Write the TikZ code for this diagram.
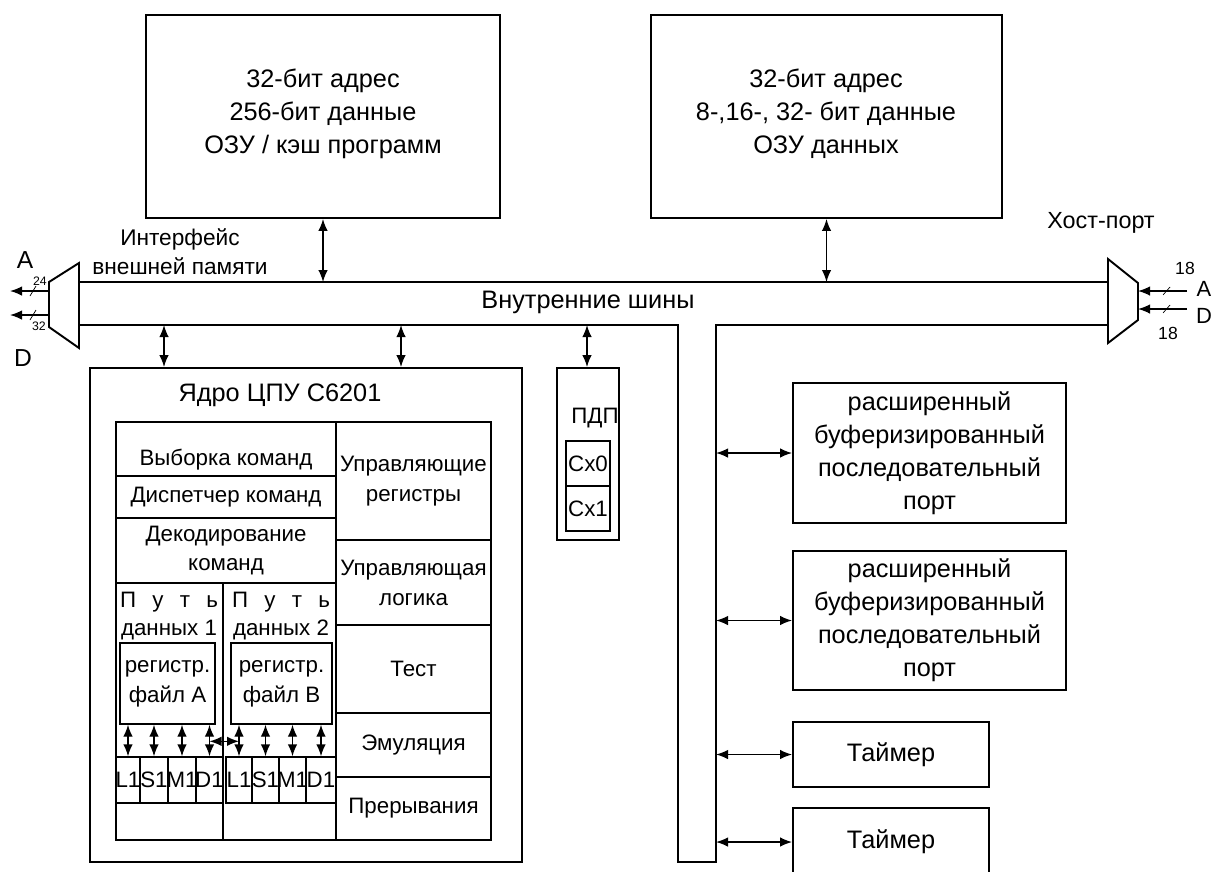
\documentclass[tikz,border=0pt]{standalone}
\usepackage{fontspec}
\setmainfont{Liberation Sans}
\usetikzlibrary{arrows.meta,fit}
\newcommand{\mainfs}{\fontsize{14.4}{18.8}\selectfont}
\newcommand{\corefs}{\fontsize{12.7}{17}\selectfont}
\newcommand{\emiffs}{\fontsize{12.9}{16.5}\selectfont}
\newcommand{\pinfs}{\fontsize{10}{11}\selectfont}
\newcommand{\tinyfs}{\fontsize{7}{8}\selectfont}

\begin{document}
\begin{tikzpicture}[x=0.2mm, y=-0.2mm, font=\mainfs, >={Latex[length=2.4mm,width=1.9mm]},
          box/.style={draw, line width=1.1pt, inner sep=0pt},
          cell/.style={draw, line width=0.8pt, inner sep=0pt},
          mtx/.style={align=center, inner sep=0pt},
          ctx/.style={align=center, inner sep=0pt, font=\corefs},
          bi/.style={<->, line width=0.8pt}]
        \clip (0,0) rectangle (1213,871);
        % memories
        \node[box, fit={(146,15) (500,218)}] (pmem) {};
        \node[mtx] (tpmem) at (323,114) {32-бит адрес\\256-бит данные\\ОЗУ / кэш программ};
        \node[box, fit={(651,15) (1002,218)}] (dmem) {};
        \node[mtx] (tdmem) at (826,114) {32-бит адрес\\8-,16-, 32- бит данные\\ОЗУ данных};
        % internal bus
        \draw[line width=1.1pt] (79,282) -- (1108,282);
        \draw[line width=1.1pt] (79,325) -- (678,325) -- (678,862) -- (716,862) -- (716,325) -- (1108,325);
        \node (busname) at (588,302) {Внутренние шины};
        \coordinate (bustop) at (0,282);
        \coordinate (stem) at (716,0);
        \draw[bi] (pmem.south) -- (pmem.south |- bustop);
        \draw[bi] (dmem.south) -- (dmem.south |- bustop);
        % external memory interface
        \draw[line width=1.1pt] (49,282) -- (79,263) -- (79,348) -- (49,327) -- cycle;
        \node[align=center, font=\emiffs] (emif) at (180,252) {Интерфейс\\внешней памяти};
        \coordinate (emA) at (49,291);
        \coordinate (emD) at (49,315);
        \coordinate (pinA) at (10,291);
        \coordinate (pinD) at (10,315);
        \draw[->, line width=0.8pt] (emA) -- (pinA);
        \draw[->, line width=0.8pt] (emD) -- (pinD);
        \draw (30,296) -- (36,286);
        \draw (30,320) -- (36,310);
        \node[font=\tinyfs] (n24) at (40,281) {24};
        \node[font=\tinyfs] (n32) at (39,326) {32};
        \node[font=\fontsize{14}{15}\selectfont] (lA) at (25,260) {A};
        \node[font=\fontsize{14}{15}\selectfont] (lD) at (23,358) {D};
        % host port
        \draw[line width=1.1pt] (1108,259) -- (1138,283) -- (1138,320) -- (1108,343) -- cycle;
        \node[font=\fontsize{13.3}{15}\selectfont] (host) at (1101,223) {Хост-порт};
        \coordinate (hpA) at (1187,291);
        \coordinate (hpD) at (1187,309);
        \coordinate (hmA) at (1138,291);
        \coordinate (hmD) at (1138,309);
        \draw[->, line width=0.8pt] (hpA) -- (hmA);
        \draw[->, line width=0.8pt] (hpD) -- (hmD);
        \draw (1163,295) -- (1170,287);
        \draw (1163,313) -- (1170,305);
        \node[font=\pinfs] (n18a) at (1185,268) {18};
        \node[font=\pinfs] (n18b) at (1168,333) {18};
        \node[font=\fontsize{12.5}{13}\selectfont] (hA) at (1204,289) {A};
        \node[font=\fontsize{12.5}{13}\selectfont] (hD) at (1204,316) {D};
        % CPU core
        \node[box, fit={(90,368) (522,862)}] (core) {};
        \node (coretitle) at (280,395) {Ядро ЦПУ С6201};
        \foreach \tx/\nm in {164/a, 401/b} {
          \coordinate (tap\nm) at (\tx,325);
          \draw[bi] (tap\nm) -- (tap\nm |- core.north);
        }
        \node[cell, fit={(116,422) (336,476)}] (fetch) {};
        \node[ctx] (tfetch) at (226,460) {Выборка команд};
        \node[cell, fit={(116,476) (336,518)}] (disp) {};
        \node[ctx] (tdisp) at (disp) {Диспетчер команд};
        \node[cell, fit={(116,518) (336,583)}] (dec) {};
        \node[ctx] (tdec) at (dec) {Декодирование\\команд};
        \foreach \ya/\yb/\nm/\txt in {422/540/creg/{Управляющие\\регистры}, 540/625/clog/{Управляющая\\логика},
            625/713/test/Тест, 713/777/emu/Эмуляция, 777/840/intr/Прерывания} {
          \node[cell, fit={(336,\ya) (491,\yb)}] (\nm) {};
          \node[ctx] (t\nm) at (\nm) {\txt};
        }
        % data paths
        \node[cell, fit={(116,583) (223,840)}] (dp1) {};
        \node[cell, fit={(223,583) (336,840)}] (dp2) {};
        \node[ctx] (path1) at (169,602) {\makebox[19.6mm][s]{П\hfill у\hfill т\hfill ь}};
        \node[ctx] (data1) at (169,630) {данных 1};
        \node[ctx] (path2) at (281,602) {\makebox[19.6mm][s]{П\hfill у\hfill т\hfill ь}};
        \node[ctx] (data2) at (281,630) {данных 2};
        \node[cell, fit={(120,643) (215,724)}] (rfA) {};
        \node[ctx] (trfA) at (rfA) {регистр.\\файл A};
        \node[cell, fit={(231,643) (332,724)}] (rfB) {};
        \node[ctx] (trfB) at (rfB) {регистр.\\файл B};
        \foreach \xa/\xb/\nm/\txt in {116/140/ua1/L1, 140/168/ua2/S1, 168/196/ua3/M1, 196/223/ua4/D1,
            226/252/ub1/L1, 252/279/ub2/S1, 279/306/ub3/M1, 306/336/ub4/D1} {
          \node[cell, fit={(\xa,757) (\xb,803)}] (\nm) {};
          \node[ctx] (t\nm) at (\nm) {\txt};
        }
        \foreach \nm in {ua1, ua2, ua3, ua4} {\draw[bi] (\nm.north) -- (\nm.north |- rfA.south);}
        \foreach \nm in {ub1, ub2, ub3, ub4} {\draw[bi] (\nm.north) -- (\nm.north |- rfB.south);}
        \path (ua4.north) ++(0,-15) coordinate (xa);
        \path (ub1.north) ++(0,-15) coordinate (xb);
        \draw[bi] (xa) -- (xb);
        % DMA
        \node[box, fit={(557,368) (619,540)}] (dma) {};
        \node[ctx] (tdma) at (595,418) {ПДП};
        \node[cell, fit={(566,441) (610,486)}] (cx0) {};
        \node[ctx] (tcx0) at (cx0) {Cx0};
        \node[cell, fit={(566,486) (610,531)}] (cx1) {};
        \node[ctx] (tcx1) at (cx1) {Cx1};
        \coordinate (tapc) at (587,325);
        \draw[bi] (tapc) -- (tapc |- dma.north);
        % peripherals
        \foreach \ya/\yb/\nm in {383/523/sp0, 551/690/sp1} {
          \node[box, fit={(793,\ya) (1066,\yb)}] (\nm) {};
          \node[mtx] (t\nm) at (\nm) {расширенный\\буферизированный\\последовательный\\порт};
        }
        \foreach \ya/\yb/\nm in {722/787/tim0, 808/876/tim1} {
          \node[box, fit={(793,\ya) (989,\yb)}] (\nm) {};
          \node[mtx] (t\nm) at (\nm) {Таймер};
        }
        \foreach \nm in {sp0, sp1, tim0, tim1} {\draw[bi] (\nm.west -| stem) -- (\nm.west);}
      \end{tikzpicture}
\end{document}
